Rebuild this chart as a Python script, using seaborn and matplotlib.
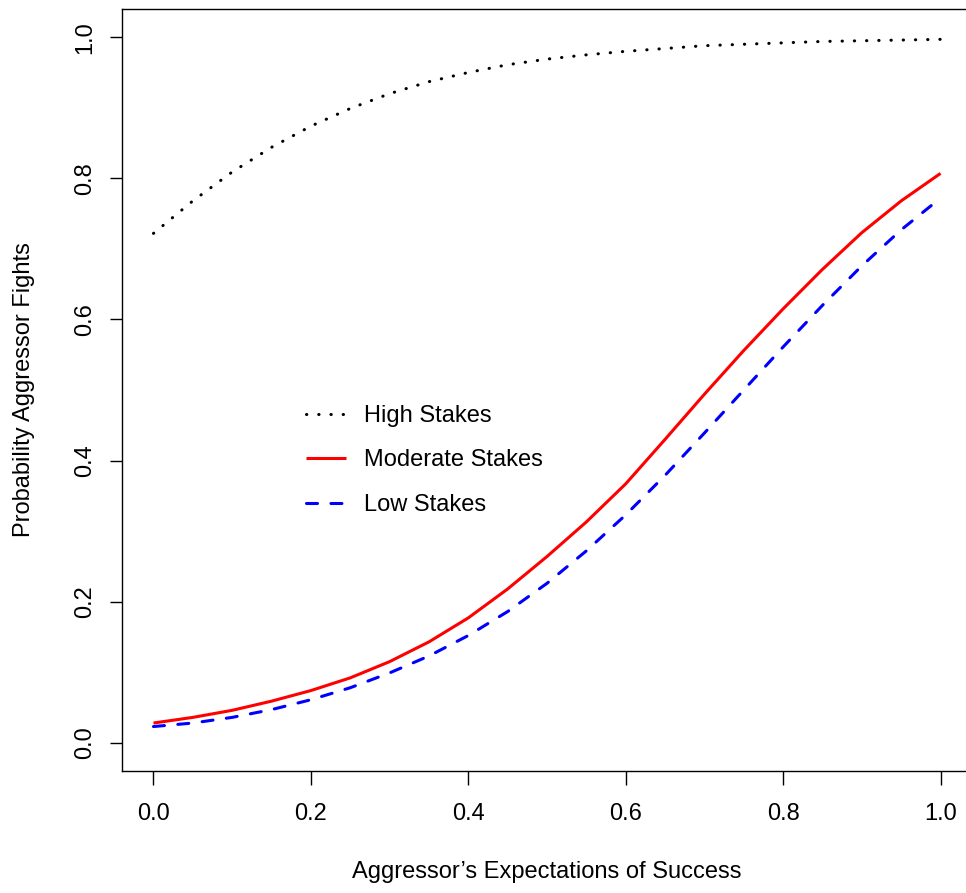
import matplotlib
matplotlib.use("Agg")
import matplotlib.pyplot as plt
import seaborn as sns
import numpy as np
import pandas as pd

# ---- data ----
x_vals = [0.00, 0.05, 0.10, 0.15, 0.20, 0.25, 0.30, 0.35, 0.40, 0.45, 0.50,
          0.55, 0.60, 0.65, 0.70, 0.75, 0.80, 0.85, 0.90, 0.95, 1.00]
high_stakes = [0.722, 0.768, 0.809, 0.844, 0.874, 0.899, 0.920, 0.937, 0.950, 0.961, 0.969,
               0.975, 0.980, 0.984, 0.988, 0.990, 0.992, 0.994, 0.995, 0.996, 0.997]
moderate_stakes = [0.028, 0.036, 0.046, 0.059, 0.074, 0.092, 0.115, 0.143, 0.177, 0.218, 0.264,
                   0.313, 0.367, 0.430, 0.494, 0.556, 0.615, 0.671, 0.723, 0.768, 0.807]
low_stakes = [0.023, 0.028, 0.036, 0.047, 0.061, 0.078, 0.099, 0.123, 0.152, 0.186, 0.226,
              0.272, 0.323, 0.379, 0.439, 0.500, 0.561, 0.620, 0.676, 0.727, 0.772]
series_names = ["High Stakes", "Moderate Stakes", "Low Stakes"]
x_ticks = [0.0, 0.2, 0.4, 0.6, 0.8, 1.0]
y_ticks = [0.0, 0.2, 0.4, 0.6, 0.8, 1.0]
x_label = "Aggressor\u2019s Expectations of Success"
y_label = "Probability Aggressor Fights"

df = pd.DataFrame({
    "x": x_vals * 3,
    "y": high_stakes + moderate_stakes + low_stakes,
    "series": [series_names[0]] * len(x_vals) + [series_names[1]] * len(x_vals)
              + [series_names[2]] * len(x_vals),
})

sns.set_theme(style="white")
plt.rcParams["font.family"] = ["Liberation Sans", "DejaVu Sans"]
plt.rcParams["text.color"] = "black"
plt.rcParams["axes.labelcolor"] = "black"

FS = 17
W, H = 966, 893
fig = plt.figure(figsize=(W / 100, H / 100), dpi=100)
left_px, right_px, top_px, bottom_px = 122, 972, 9, 771
ax = fig.add_axes([left_px / W, 1 - bottom_px / H,
                   (right_px - left_px) / W, (bottom_px - top_px) / H])

styles = {
    "High Stakes": dict(color="black", dashes=(0.1, 3.9)),
    "Moderate Stakes": dict(color="#ff0000", dashes=None),
    "Low Stakes": dict(color="#0000ff", dashes=(3.6, 4.4)),
}
for name in series_names:
    sub = df[df["series"] == name]
    st = styles[name]
    sns.lineplot(data=sub, x="x", y="y", ax=ax, color=st["color"], lw=2.2,
                 label=name, legend=False, estimator=None)
    line = ax.get_lines()[-1]
    line.set_solid_joinstyle("round")
    line.set_dash_joinstyle("round")
    if st["dashes"] is not None:
        line.set_dashes(st["dashes"])
        line.set_dash_capstyle("round")
    else:
        line.set_solid_capstyle("butt")

ax.set_xlim(-0.04, 1.04)
ax.set_ylim(-0.04, 1.04)
ax.set_xticks(x_ticks)
ax.set_xticklabels([f"{v:.1f}" for v in x_ticks], fontsize=FS)
ax.set_yticks(y_ticks)
ax.set_yticklabels([f"{v:.1f}" for v in y_ticks], fontsize=FS, rotation=90, va="center")
ax.tick_params(axis="x", direction="out", length=10, width=1.0, color="black", pad=13.3,
               bottom=True, labelcolor="black")
ax.tick_params(axis="y", direction="out", length=9, width=1.0, color="black", pad=9.4,
               left=True, labelcolor="black")

for s in ax.spines.values():
    s.set_visible(True)
    s.set_color("black")
    s.set_linewidth(1.0)

ax.set_xlabel(x_label, fontsize=FS, color="black")
ax.set_ylabel(y_label, fontsize=FS, color="black")
ax.xaxis.set_label_coords(0.5, -(872 - bottom_px) / (bottom_px - top_px))
ax.xaxis.label.set_va("center")
ax.yaxis.set_label_coords((24 - left_px) / (right_px - left_px), 0.5)
ax.yaxis.label.set_va("center")

handles = ax.get_lines()[:3]
leg = ax.legend(handles, series_names, loc="upper left",
                bbox_to_anchor=(306 / W, 1 - 405 / H), bbox_transform=fig.transFigure,
                frameon=False, fontsize=FS, handlelength=1.7, handletextpad=0.75,
                labelspacing=0.95, borderpad=0, borderaxespad=0)
for t in leg.get_texts():
    t.set_color("black")

ax.grid(False)
fig.savefig("out.png", dpi=100)
